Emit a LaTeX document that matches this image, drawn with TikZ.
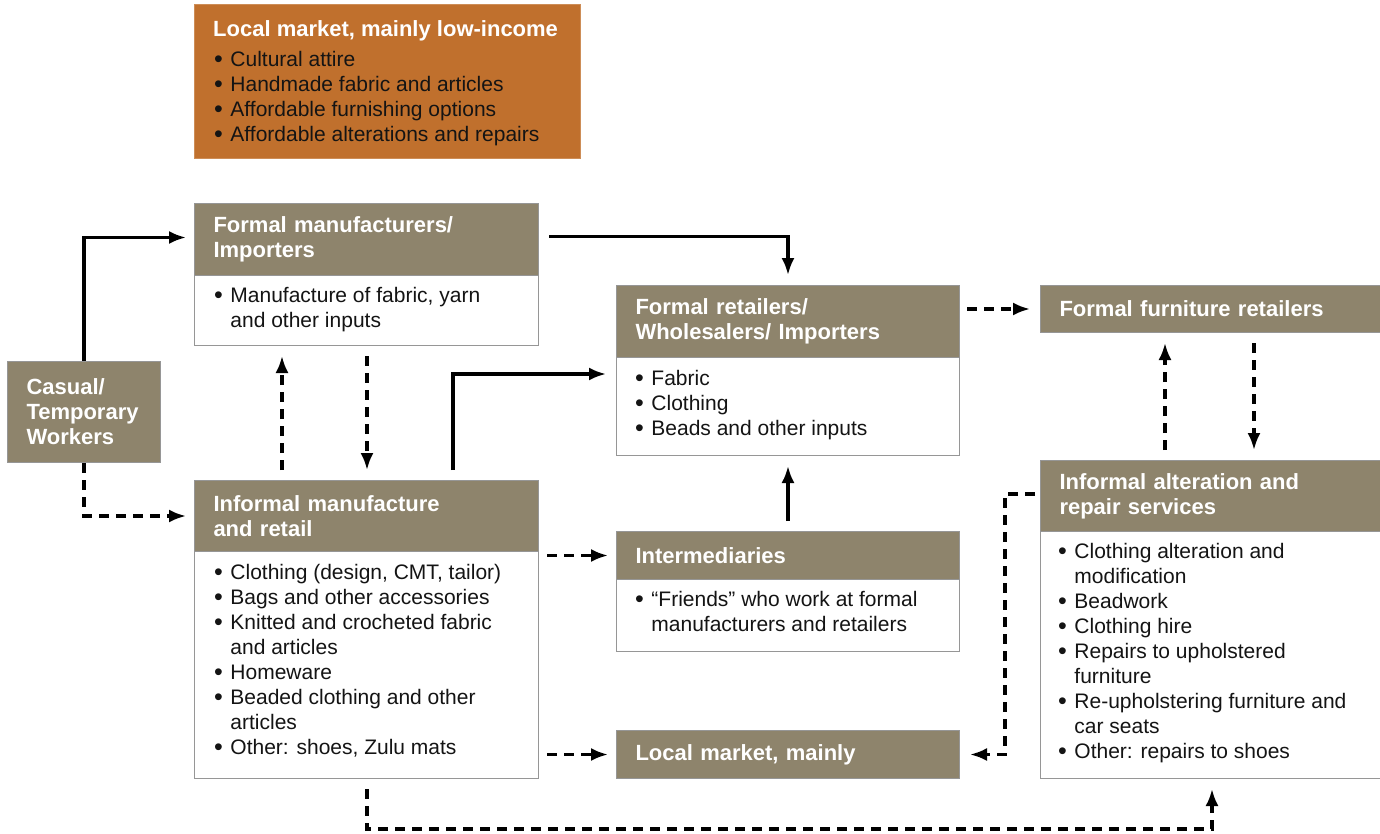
\documentclass[tikz,border=0pt]{standalone}
\usepackage{fontspec}
\setmainfont{Liberation Sans}
\usetikzlibrary{arrows.meta,calc}
\definecolor{hdrc}{RGB}{142,132,108}
\definecolor{orng}{RGB}{192,112,45}
\definecolor{edgec}{RGB}{150,150,150}
\definecolor{txtc}{RGB}{20,20,20}
\newcommand\hfnt{\fontsize{22}{25}\selectfont\bfseries}
\newcommand\bfnt{\fontsize{21}{25}\selectfont}
\newcommand\bul{\raisebox{-0.8pt}{\fontsize{25}{25}\selectfont\textbullet}}
\newcommand\blist[1]{\begin{tabular}{@{}l@{\hspace{7.5pt}}l@{}}#1\end{tabular}}
\begin{document}
\begin{tikzpicture}[x=1pt,y=-1pt,
  hdr/.style={fill=hdrc, draw=edgec, line width=1pt, anchor=north west, inner xsep=19pt, inner ysep=0pt, text=white, font=\hfnt, align=left},
  bodyb/.style={fill=white, draw=edgec, line width=1pt, anchor=north west, inner sep=0pt},
  btxt/.style={anchor=north west, inner sep=0pt, font=\bfnt, text=txtc},
  solidarr/.style={line width=3.1pt, -{Latex[length=17pt,width=13pt]}},
  dasharr/.style={solidarr, dash pattern=on 10pt off 7pt}]
\useasboundingbox (0,0) rectangle (1380,833);

% top orange box
\node[fill=orng, draw=orng!80!white, line width=1pt, minimum width=386pt, minimum height=154pt, anchor=north west, inner sep=0pt] (lo) at (194,4) {};
\node[anchor=base west, inner sep=0pt, font=\hfnt, text=white] (loH) at (213,36) {Local market, mainly low-income};
\node[btxt] (loT) at (214,48.5) {\blist{\bul & Cultural attire\\ \bul & Handmade fabric and articles\\ \bul & Affordable furnishing options\\ \bul & Affordable alterations and repairs}};

% casual workers
\node[hdr, minimum width=153pt, minimum height=101pt, text width=115pt] (cas) at (7,361) {Casual/\\Temporary\\Workers};

% formal manufacturers
\node[hdr, minimum width=344pt, minimum height=72pt, text width=306pt] (fmH) at (194,203) {Formal manufacturers/\\Importers};
\node[bodyb, minimum width=344pt, minimum height=70pt] (fmB) at (194,275) {};
\node[btxt] (fmT) at (214,285) {\blist{\bul & Manufacture of fabric, yarn\\ & and other inputs}};

% informal manufacture
\node[hdr, minimum width=344pt, minimum height=71pt, text width=306pt] (imH) at (194,480) {Informal manufacture\\and retail};
\node[bodyb, minimum width=344pt, minimum height=227pt] (imB) at (194,551) {};
\node[btxt] (imT) at (214,562) {\blist{\bul & Clothing (design, CMT, tailor)\\ \bul & Bags and other accessories\\ \bul & Knitted and crocheted fabric\\ & and articles\\ \bul & Homeware\\ \bul & Beaded clothing and other\\ & articles\\ \bul & Other: shoes, Zulu mats}};

% formal retailers
\node[hdr, minimum width=343pt, minimum height=72pt, text width=305pt] (frH) at (616,285) {Formal retailers/\\Wholesalers/ Importers};
\node[bodyb, minimum width=343pt, minimum height=98pt] (frB) at (616,357) {};
\node[btxt] (frT) at (635,367.5) {\blist{\bul & Fabric\\ \bul & Clothing\\ \bul & Beads and other inputs}};

% intermediaries
\node[hdr, minimum width=343pt, minimum height=48pt, text width=305pt] (inH) at (616,531) {Intermediaries};
\node[bodyb, minimum width=343pt, minimum height=72pt] (inB) at (616,579) {};
\node[btxt] (inT) at (635,589) {\blist{\bul & “Friends” who work at formal\\ & manufacturers and retailers}};

% local market mainly
\node[hdr, minimum width=343pt, minimum height=48pt, text width=305pt] (lmN) at (616,730) {Local market, mainly};

% formal furniture retailers
\node[hdr, minimum width=340pt, minimum height=47pt, text width=302pt] (ffN) at (1040,285) {Formal furniture retailers};

% informal alteration
\node[hdr, minimum width=340pt, minimum height=71pt, text width=302pt] (iaH) at (1040,460) {Informal alteration and\\repair services};
\node[bodyb, minimum width=340pt, minimum height=247pt] (iaB) at (1040,531) {};
\node[btxt] (iaT) at (1058,541) {\blist{\bul & Clothing alteration and\\ & modification\\ \bul & Beadwork\\ \bul & Clothing hire\\ \bul & Repairs to upholstered\\ & furniture\\ \bul & Re-upholstering furniture and\\ & car seats\\ \bul & Other: repairs to shoes}};

% connectors
\draw[solidarr] (cas.north) |- ([xshift=-8pt,yshift=2pt]fmH.west);
\draw[dasharr] (cas.south) |- ([xshift=-8pt]imH.west);
\draw[solidarr] ([xshift=10pt,yshift=3pt]fmH.east) -| ([yshift=10pt]frH.north);
\draw[dasharr] ([xshift=88pt,yshift=10pt]imH.north west) -- ([xshift=88pt,yshift=-10pt]fmB.south west);
\draw[dasharr] ([xshift=173pt,yshift=-10pt]fmB.south west) -- ([xshift=173pt,yshift=10pt]imH.north west);
\draw[solidarr] ([xshift=259pt,yshift=10pt]imH.north west) |- ([xshift=-10pt,yshift=-17pt]frB.north west);
\draw[dasharr] ($(imB.east |- inH.west)+(8,0)$) -- ([xshift=-8pt]inH.west);
\draw[dasharr] ($(imB.east |- lmN.west)+(8,0)$) -- ([xshift=-8pt]lmN.west);
\draw[solidarr] ([yshift=10pt]inH.north) -- ([yshift=-10pt]frB.south);
\draw[dasharr] ($(frH.east |- ffN.west)+(7,0)$) -- ([xshift=-10pt]ffN.west);
\draw[dasharr] ([xshift=125pt,yshift=10pt]iaH.north west) -- ([xshift=125pt,yshift=-10pt]ffN.south west);
\draw[dasharr] ([xshift=214pt,yshift=-10pt]ffN.south west) -- ([xshift=214pt,yshift=10pt]iaH.north west);
\draw[dasharr] ([xshift=-5pt,yshift=2pt]iaH.west) -- ++(-30,0) |- ([xshift=10pt]lmN.east);
\draw[dasharr] ([xshift=173pt,yshift=-10pt]imB.south west) -- ++(0,40) -| ([xshift=172pt,yshift=-10pt]iaB.south west);
\end{tikzpicture}
\end{document}
